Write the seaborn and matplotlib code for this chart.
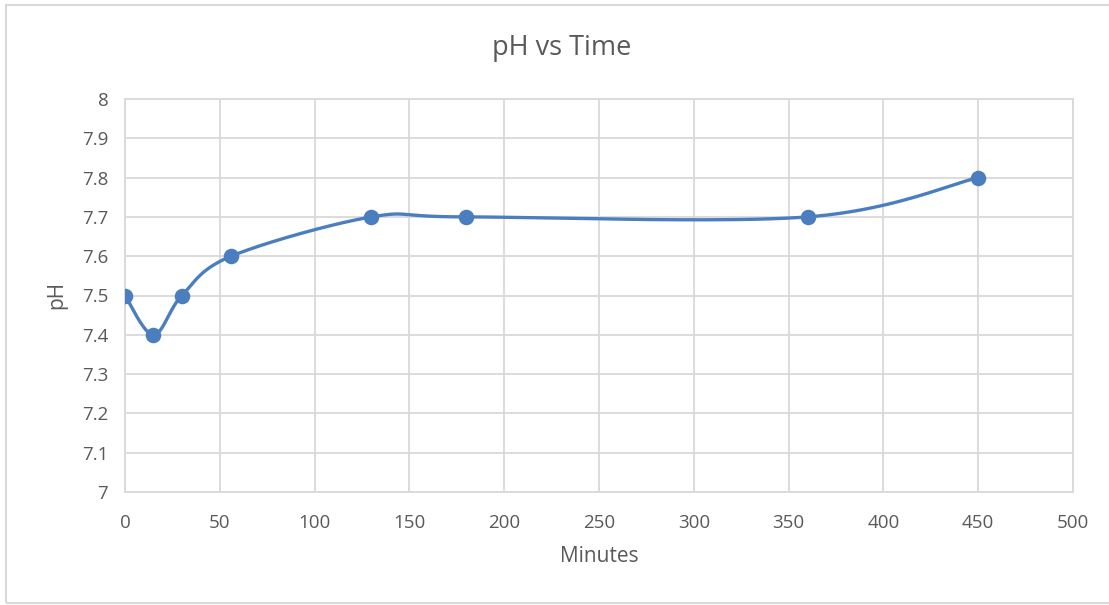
import numpy as np
import pandas as pd
import matplotlib
matplotlib.use("Agg")
import matplotlib.pyplot as plt
import seaborn as sns
from matplotlib.patches import Rectangle

# Measurements
minutes = [0, 15, 30, 56, 130, 180, 360, 450]
ph = [7.5, 7.4, 7.5, 7.6, 7.7, 7.7, 7.7, 7.8]

x_ticks = [0, 50, 100, 150, 200, 250, 300, 350, 400, 450, 500]
y_ticks = [7.0, 7.1, 7.2, 7.3, 7.4, 7.5, 7.6, 7.7, 7.8, 7.9, 8.0]
y_tick_labels = ["7", "7.1", "7.2", "7.3", "7.4", "7.5", "7.6", "7.7", "7.8", "7.9", "8"]

LINE = "#4A7EBF"
TEXT = "#595959"
GRID = "#D9D9D9"

sns.set_theme(style="white")
plt.rcParams["font.family"] = ["Open Sans", "DejaVu Sans"]


def smooth_curve(xs, ys, n=40):
    """Catmull-Rom style cubic Bezier through every point (spreadsheet 'smoothed line')."""
    p = np.column_stack([xs, ys]).astype(float)
    ext = np.vstack([p[0], p, p[-1]])
    out = []
    t = np.linspace(0, 1, n)[:, None]
    for i in range(1, len(ext) - 2):
        p0, p1, p2, p3 = ext[i - 1], ext[i], ext[i + 1], ext[i + 2]
        b1 = p1 + (p2 - p0) / 6.0
        b2 = p2 - (p3 - p1) / 6.0
        seg = ((1 - t) ** 3) * p1 + 3 * ((1 - t) ** 2) * t * b1 + 3 * (1 - t) * t ** 2 * b2 + t ** 3 * p2
        out.append(seg if i == 1 else seg[1:])
    c = np.vstack(out)
    return c[:, 0], c[:, 1]


df = pd.DataFrame({"Minutes": minutes, "pH": ph})
cx, cy = smooth_curve(df["Minutes"], df["pH"])
curve = pd.DataFrame({"Minutes": cx, "pH": cy})

fig = plt.figure(figsize=(11.09, 6.05), dpi=100)
ax = fig.add_axes([125 / 1109, 1 - 492 / 605, (1073 - 125) / 1109, (492 - 99) / 605])

sns.lineplot(data=curve, x="Minutes", y="pH", sort=False, color=LINE, lw=2.4, ax=ax, zorder=3)
sns.scatterplot(data=df, x="Minutes", y="pH", color=LINE, s=125, edgecolor=LINE, linewidth=0, ax=ax, zorder=4)

ax.set_xlim(0, 500)
ax.set_ylim(7, 8)
ax.set_xticks(x_ticks)
ax.set_yticks(y_ticks)
ax.set_yticklabels(y_tick_labels)
ax.tick_params(axis="both", length=0, labelsize=13.5, colors=TEXT)
ax.tick_params(axis="x", pad=16)
ax.tick_params(axis="y", pad=12)
ax.grid(True, color=GRID, lw=1.3)
ax.set_axisbelow(True)
for s in ax.spines.values():
    s.set_color(GRID)
    s.set_linewidth(1.3)

ax.set_xlabel("")
ax.set_ylabel("")
fig.text(599 / 1109, 1 - 557 / 605, "Minutes", ha="center", va="center", fontsize=15, color=TEXT)
fig.text(57 / 1109, 1 - 295 / 605, "pH", ha="center", va="center", rotation=90, fontsize=15, color=TEXT)
fig.text(562 / 1109, 1 - 48 / 605, "pH vs Time", ha="center", va="center", fontsize=19.5, color=TEXT)

# chart-area frame
fig.patches.append(Rectangle((6 / 1109, 1 - 603 / 605), 1.1, (603 - 5) / 605,
                             transform=fig.transFigure, fill=False, edgecolor="#D9D9D9", lw=1.5))

fig.savefig("out.png", dpi=100, facecolor="white")
